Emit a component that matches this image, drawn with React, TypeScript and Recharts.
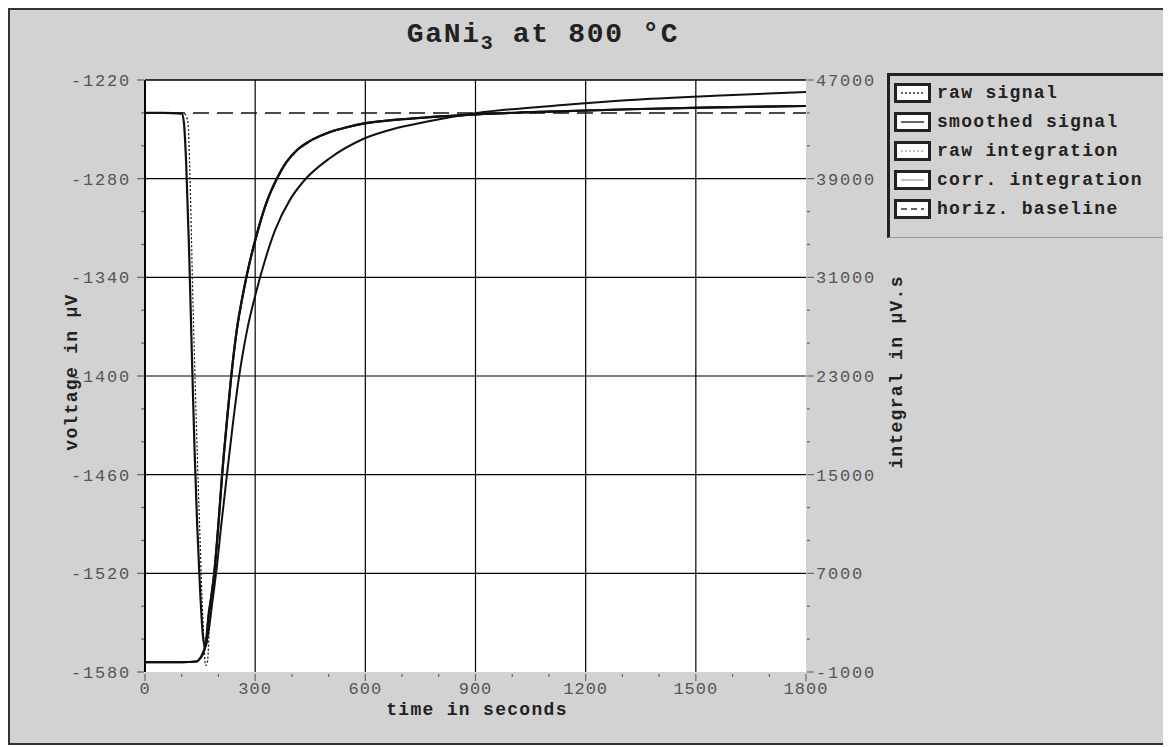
import React from 'react'
import { LineChart, Line, XAxis, YAxis, ReferenceLine, ReferenceArea } from 'recharts'

// time axis (s) and tick values
const xTicks = [0, 100, 200, 300, 400, 500, 600, 700, 800, 900, 1000, 1100, 1200, 1300, 1400, 1500, 1600, 1700, 1800]
const xMajor = [0, 300, 600, 900, 1200, 1500, 1800]
const vTicks = [-1580, -1560, -1540, -1520, -1500, -1480, -1460, -1440, -1420, -1400, -1380, -1360, -1340, -1320, -1300, -1280, -1260, -1240, -1220]
const vMajor = [-1580, -1520, -1460, -1400, -1340, -1280, -1220]
const iMajor = [-1000, 7000, 15000, 23000, 31000, 39000, 47000]
const iTicks = iMajor.flatMap((m, k) => (k < iMajor.length - 1 ? [m, m + 8000 / 3, m + 16000 / 3] : [m]))

// smoothed signal (µV)
const sigTime = [0, 50, 100, 106, 112, 120, 128, 135, 142, 150, 157, 163, 168, 172, 180, 188, 200, 210, 222, 234, 250, 267, 285, 308, 330, 359, 385, 414, 450, 504, 550, 594, 680, 776, 904, 1100, 1321, 1550, 1800]
const smoothSignal = [-1240, -1240, -1240.5, -1246, -1270, -1323, -1390, -1445, -1490, -1530, -1556, -1565, -1562, -1548, -1535, -1521, -1490, -1460, -1430, -1402, -1372, -1350, -1331, -1311, -1295, -1280, -1270, -1262.6, -1257, -1251.6, -1248.7, -1246.5, -1244.3, -1242.6, -1240.9, -1239.2, -1237.8, -1236.7, -1235.8]

// raw signal (µV)
const rawTime = [0, 50, 100, 110, 117, 122, 130, 140, 150, 158, 165, 170, 175, 180, 188, 200, 210, 234, 267, 308, 359, 414, 504, 594, 776, 904, 1321, 1800]
const rawSignal = [-1240, -1240.3, -1240, -1241, -1246, -1275, -1350, -1430, -1500, -1550, -1576, -1574, -1555, -1537, -1523, -1489, -1461, -1401, -1350, -1311, -1280, -1263, -1252, -1246.6, -1242.6, -1240.9, -1237.8, -1235.9]

// corrected integration (µV.s)
const corrTime = [0, 100, 140, 150, 157, 163, 168, 172, 180, 188, 200, 210, 222, 234, 250, 267, 285, 308, 330, 359, 385, 414, 450, 504, 550, 594, 680, 776, 904, 1100, 1321, 1550, 1800]
const corrIntegration = [-200, -200, -150, 100, 500, 1000, 2000, 3200, 5000, 6867, 11000, 15000, 19000, 22733, 26733, 29667, 32200, 34867, 37000, 39000, 40333, 41320, 42067, 42787, 43173, 43467, 43760, 43987, 44213, 44440, 44627, 44773, 44893]

// raw integration (µV.s)
const rawIntTime = [0, 100, 140, 150, 160, 168, 174, 184, 193, 208, 223, 238, 253, 265, 280, 300, 327, 354, 395, 430, 504, 594, 686, 776, 904, 1138, 1321, 1550, 1800]
const rawIntegration = [-200, -200, -150, 100, 600, 1500, 2500, 4800, 6865, 11000, 14973, 18800, 22300, 24600, 27000, 29500, 32405, 34800, 37300, 38730, 40675, 42216, 43108, 43676, 44324, 44973, 45378, 45720, 46027]

// horizontal baseline
const baseTime = [0, 1800]
const baseline = [-1240, -1240]

const legendItems = [
  { name: 'raw signal', color: '#333', dash: '2 2' },
  { name: 'smoothed signal', color: '#333', dash: '' },
  { name: 'raw integration', color: '#aaa', dash: '2 2' },
  { name: 'corr. integration', color: '#aaa', dash: '' },
  { name: 'horiz. baseline', color: '#333', dash: '6 4' },
]

const toRows = (ts: number[], vs: number[]) => ts.map((t, i) => ({ t, v: vs[i] }))

const mono = '"Liberation Mono", "Courier New", monospace'
const tickFont = { fontFamily: mono, fontSize: 17, letterSpacing: 1.8, fill: '#555' }

const LeftTick = (props: any) => {
  const { x, y, payload } = props
  const major = vMajor.includes(payload.value)
  return (
    <g>
      <line x1={x - (major ? 8 : 4)} x2={x - 1} y1={y} y2={y} stroke="#666" strokeWidth={1.2} />
      {major && (
        <text x={x - 14} y={y} dy={6} textAnchor="end" {...tickFont}>
          {payload.value}
        </text>
      )}
    </g>
  )
}

const RightTick = (props: any) => {
  const { x, y, payload } = props
  const major = iMajor.includes(payload.value)
  return (
    <g>
      <line x1={x + 1} x2={x + (major ? 8 : 4)} y1={y} y2={y} stroke="#666" strokeWidth={1.2} />
      {major && (
        <text x={x + 10} y={y} dy={6} textAnchor="start" {...tickFont}>
          {payload.value}
        </text>
      )}
    </g>
  )
}

const BottomTick = (props: any) => {
  const { x, y, payload } = props
  const major = xMajor.includes(payload.value)
  return (
    <g>
      <line x1={x} x2={x} y1={y + 2} y2={y + (major ? 9 : 5)} stroke="#666" strokeWidth={1.2} />
      {major && (
        <text x={x} y={y + 22} textAnchor="middle" {...tickFont} letterSpacing={1}>
          {payload.value}
        </text>
      )}
    </g>
  )
}

const labelStyle: React.CSSProperties = {
  position: 'absolute',
  fontFamily: mono,
  fontWeight: 'bold',
  fontSize: 18,
  letterSpacing: 1.3,
  color: '#222',
  whiteSpace: 'nowrap',
}

export default function App() {
  return (
    <div
      style={{
        position: 'relative',
        width: 1160,
        height: 737,
        background: '#d2d2d2',
        border: '2px solid #333',
        boxSizing: 'border-box',
        overflow: 'hidden',
      }}
    >
      <style>{'html,body{overflow:hidden}'}</style>
      <div style={{ position: 'absolute', left: 0, top: 0 }}>
        <LineChart width={1156} height={733} margin={{ top: 70, right: 280, bottom: 11, left: 65 }}>
          <XAxis
            dataKey="t"
            type="number"
            domain={[0, 1800]}
            ticks={xTicks}
            interval={0}
            allowDuplicatedCategory={false}
            axisLine={false}
            tickLine={false}
            tickSize={0}
            tickMargin={0}
            height={60}
            tick={<BottomTick />}
          />
          <YAxis
            yAxisId="v"
            type="number"
            domain={[-1580, -1220]}
            ticks={vTicks}
            interval={0}
            width={70}
            axisLine={{ stroke: '#000', strokeWidth: 2 }}
            tickLine={false}
            tickSize={0}
            tickMargin={0}
            tick={<LeftTick />}
          />
          <YAxis
            yAxisId="i"
            orientation="right"
            type="number"
            domain={[-1000, 47000]}
            ticks={iTicks}
            interval={0}
            width={80}
            axisLine={false}
            tickLine={false}
            tickSize={0}
            tickMargin={0}
            tick={<RightTick />}
          />
          <ReferenceArea yAxisId="v" x1={0} x2={1800} y1={-1580} y2={-1220} fill="#fff" fillOpacity={1} stroke="none" />
          {xMajor.slice(1, -1).map((v) => (
            <ReferenceLine key={'x' + v} yAxisId="v" x={v} stroke="#000" strokeWidth={1.2} />
          ))}
          {vMajor.slice(1, -1).map((v) => (
            <ReferenceLine key={'y' + v} yAxisId="v" y={v} stroke="#000" strokeWidth={1.2} />
          ))}
          <ReferenceLine yAxisId="v" y={-1220} stroke="#000" strokeWidth={1.5} />
          <Line
            yAxisId="v"
            data={toRows(baseTime, baseline)}
            dataKey="v"
            stroke="#111"
            strokeWidth={1.5}
            strokeDasharray="16 8"
            dot={false}
            activeDot={false}
            isAnimationActive={false}
          />
          <Line
            yAxisId="i"
            data={toRows(rawIntTime, rawIntegration)}
            dataKey="v"
            type="monotone"
            stroke="#111"
            strokeWidth={2}
            dot={false}
            activeDot={false}
            isAnimationActive={false}
          />
          <Line
            yAxisId="i"
            data={toRows(corrTime, corrIntegration)}
            dataKey="v"
            type="monotone"
            stroke="#111"
            strokeWidth={2.2}
            dot={false}
            activeDot={false}
            isAnimationActive={false}
          />
          <Line
            yAxisId="v"
            data={toRows(rawTime, rawSignal)}
            dataKey="v"
            type="monotone"
            stroke="#111"
            strokeWidth={1.2}
            strokeDasharray="2 2"
            dot={false}
            activeDot={false}
            isAnimationActive={false}
          />
          <Line
            yAxisId="v"
            data={toRows(sigTime, smoothSignal)}
            dataKey="v"
            type="monotone"
            stroke="#111"
            strokeWidth={2.2}
            dot={false}
            activeDot={false}
            isAnimationActive={false}
          />
        </LineChart>
      </div>

      <div style={{ ...labelStyle, left: 233, width: 600, top: 9, textAlign: 'center', fontSize: 28, letterSpacing: 1.7, lineHeight: '32px' }}>
        GaNi<sub style={{ fontSize: 20, lineHeight: 0 }}>3</sub> at 800 °C
      </div>
      <div style={{ ...labelStyle, left: 62, top: 362, transform: 'translate(-50%, -50%) rotate(-90deg)' }}>voltage in µV</div>
      <div style={{ ...labelStyle, left: 887, top: 362, transform: 'translate(-50%, -50%) rotate(-90deg)' }}>integral in µV.s</div>
      <div style={{ ...labelStyle, left: 467, top: 700, transform: 'translate(-50%, -50%)' }}>time in seconds</div>

      <div
        style={{
          position: 'absolute',
          left: 877,
          top: 63,
          width: 279,
          height: 165,
          boxSizing: 'border-box',
          borderLeft: '3px solid #222',
          borderTop: '3px solid #222',
          borderBottom: '1px solid #999',
        }}
      >
        {legendItems.map((it, i) => (
          <div key={it.name} style={{ position: 'absolute', left: 4, top: 7 + 29 * i, height: 20, display: 'flex', alignItems: 'center' }}>
            <svg width={37} height={20} style={{ display: 'block' }}>
              <rect x={1.5} y={1.5} width={34} height={17} fill="#fff" stroke="#222" strokeWidth={3} />
              <line x1={7} x2={30} y1={10} y2={10} stroke={it.color} strokeWidth={1.5} strokeDasharray={it.dash || undefined} />
            </svg>
            <span style={{ ...labelStyle, position: 'static', marginLeft: 6 }}>{it.name}</span>
          </div>
        ))}
      </div>
    </div>
  )
}
